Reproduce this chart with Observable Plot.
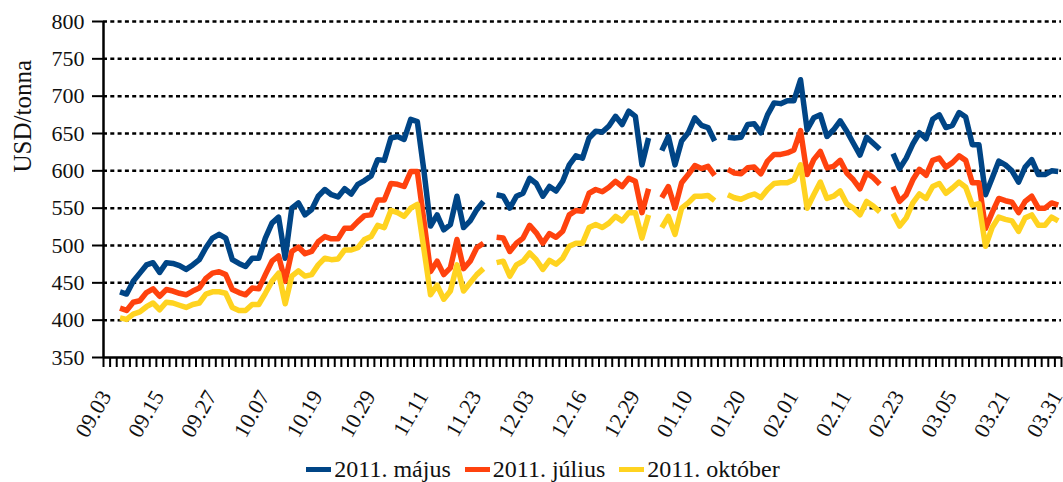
<!DOCTYPE html>
<html><head><meta charset="utf-8">
<script src="https://cdn.jsdelivr.net/npm/d3@7"></script>
<script src="https://cdn.jsdelivr.net/npm/@observablehq/plot@0.6"></script>
<style>
html,body{margin:0;padding:0;background:#fff;}
#wrap{position:relative;width:1063px;height:482px;font-family:"Liberation Serif",serif;}
#chart svg text{font-family:"Liberation Serif",serif;}
#legend{position:absolute;left:0;top:453px;width:1063px;height:32px;box-sizing:border-box;padding-left:23px;display:flex;justify-content:center;align-items:center;font-size:24px;color:#111;}
#legend .item{display:flex;align-items:center;margin:0 7px;}
#legend .sw{display:inline-block;width:25px;height:5px;margin-right:3px;}
</style></head>
<body><div id="wrap"><div id="chart"></div><div id="legend"></div></div>
<script>
const tickLabels = ["09.03","09.15","09.27","10.07","10.19","10.29","11.11","11.23","12.03","12.16","12.29","01.10","01.20","02.01","02.11","02.23","03.05","03.21","03.31"];
const seriesNames = ["2011. május","2011. július","2011. október"];
const seriesColors = ["#004586","#ff420e","#ffd320"];
const majus = [null,null,438,435,452,463,474,477,464,477,476,473,468,474,481,497,510,515,510,481,476,472,483,483,510,530,538,483,550,557,541,548,566,575,568,565,576,569,582,587,593,615,614,644,646,642,669,666,600,526,541,521,528,566,524,533,548,559,null,568,566,550,566,570,590,583,566,579,573,586,608,620,617,644,653,652,660,673,662,680,673,608,644,null,627,646,608,640,651,671,661,658,640,null,645,644,645,662,663,651,675,691,690,694,694,722,655,671,675,646,655,667,653,637,621,645,637,629,null,623,603,617,636,651,643,669,675,658,661,678,672,635,635,568,590,613,608,600,585,605,615,595,595,600,599];
const julius = [null,null,416,413,424,426,437,442,432,441,439,436,434,439,443,456,463,465,461,441,437,434,443,442,461,479,486,452,492,498,489,492,505,512,509,509,523,523,532,540,541,561,561,583,582,579,599,599,533,465,479,461,470,508,469,479,497,503,null,511,510,492,503,510,527,517,503,516,511,519,541,547,546,570,575,572,578,586,579,590,586,544,576,null,564,579,550,584,595,607,603,606,594,null,602,597,596,604,605,596,613,622,622,624,628,654,595,615,626,604,606,614,597,588,576,597,591,582,null,579,559,568,588,602,594,614,617,605,611,620,614,584,584,523,544,563,560,558,544,559,566,550,550,557,554];
const oktober = [null,null,403,401,408,411,418,423,414,424,423,420,417,421,423,435,438,438,436,417,413,413,421,421,436,452,463,422,459,466,459,461,474,483,481,482,494,494,497,508,512,527,524,547,544,539,550,555,495,434,447,428,439,474,439,450,461,469,null,477,479,459,474,479,490,481,468,480,475,483,499,503,503,524,528,524,530,539,533,544,544,510,541,null,524,539,515,550,557,566,566,567,560,null,568,564,562,566,569,564,575,583,584,584,588,608,550,568,585,563,566,573,556,550,541,559,553,545,null,543,526,537,557,569,563,579,583,570,577,585,578,554,556,499,524,538,535,533,519,537,541,527,527,538,533];
const yTicks = [350,400,450,500,550,600,650,700,750,800];

const N = majus.length;
const allSeries = [majus, julius, oktober];
const rows = allSeries.flatMap((vals, s) => vals.map((v, i) => ({i, v, s: seriesNames[s]})));
const serif = "'Liberation Serif', serif";

const chart = Plot.plot({
  width: 1063, height: 445,
  marginLeft: 103, marginRight: 2, marginTop: 21, marginBottom: 88,
  style: {fontFamily: serif, fontSize: "22px", color: "#111", background: "#fff", overflow: "visible"},
  x: {domain: [-0.5, N - 0.5]},
  y: {domain: [350, 800]},
  color: {domain: seriesNames, range: seriesColors},
  marks: [
    Plot.ruleY(yTicks.slice(1), {stroke: "#000", strokeWidth: 2.5, strokeDasharray: "4,3.3"}),
    Plot.line(rows, {x: "i", y: "v", z: "s", stroke: "s", strokeWidth: 5.5, strokeLinejoin: "round", strokeLinecap: "butt"}),
    Plot.axisY({ticks: yTicks, tickSize: 11, tickPadding: 8, strokeWidth: 2, stroke: "#000", fill: "#111", fontSize: 22, fontFamily: serif, label: null}),
    Plot.axisX({ticks: d3.range(N + 1).map(k => k - 0.5), tickSize: 10, strokeWidth: 2, stroke: "#000", tickFormat: () => "", label: null}),
    Plot.axisX({ticks: d3.range(0, N, 8), tickSize: 0, tickPadding: 35, tickRotate: -60, fontSize: 22, fontFamily: serif, fill: "#111", dx: -1,
      tickFormat: i => tickLabels[Math.round(i / 8)], label: null}),
    Plot.ruleX([-0.5], {stroke: "#000", strokeWidth: 2.5}),
    Plot.ruleY([350], {stroke: "#000", strokeWidth: 2.5}),
    Plot.text(["USD/tonna"], {text: d => d, frameAnchor: "left", dx: -81, dy: -17, rotate: -90, fontSize: 25, fontFamily: serif, fill: "#111"})
  ]
});
document.getElementById("chart").appendChild(chart);

const legend = document.getElementById("legend");
seriesNames.forEach((name, k) => {
  const item = document.createElement("span");
  item.className = "item";
  const sw = document.createElement("span");
  sw.className = "sw";
  sw.style.background = seriesColors[k];
  item.appendChild(sw);
  item.appendChild(document.createTextNode(name));
  legend.appendChild(item);
});
</script>
</body></html>
